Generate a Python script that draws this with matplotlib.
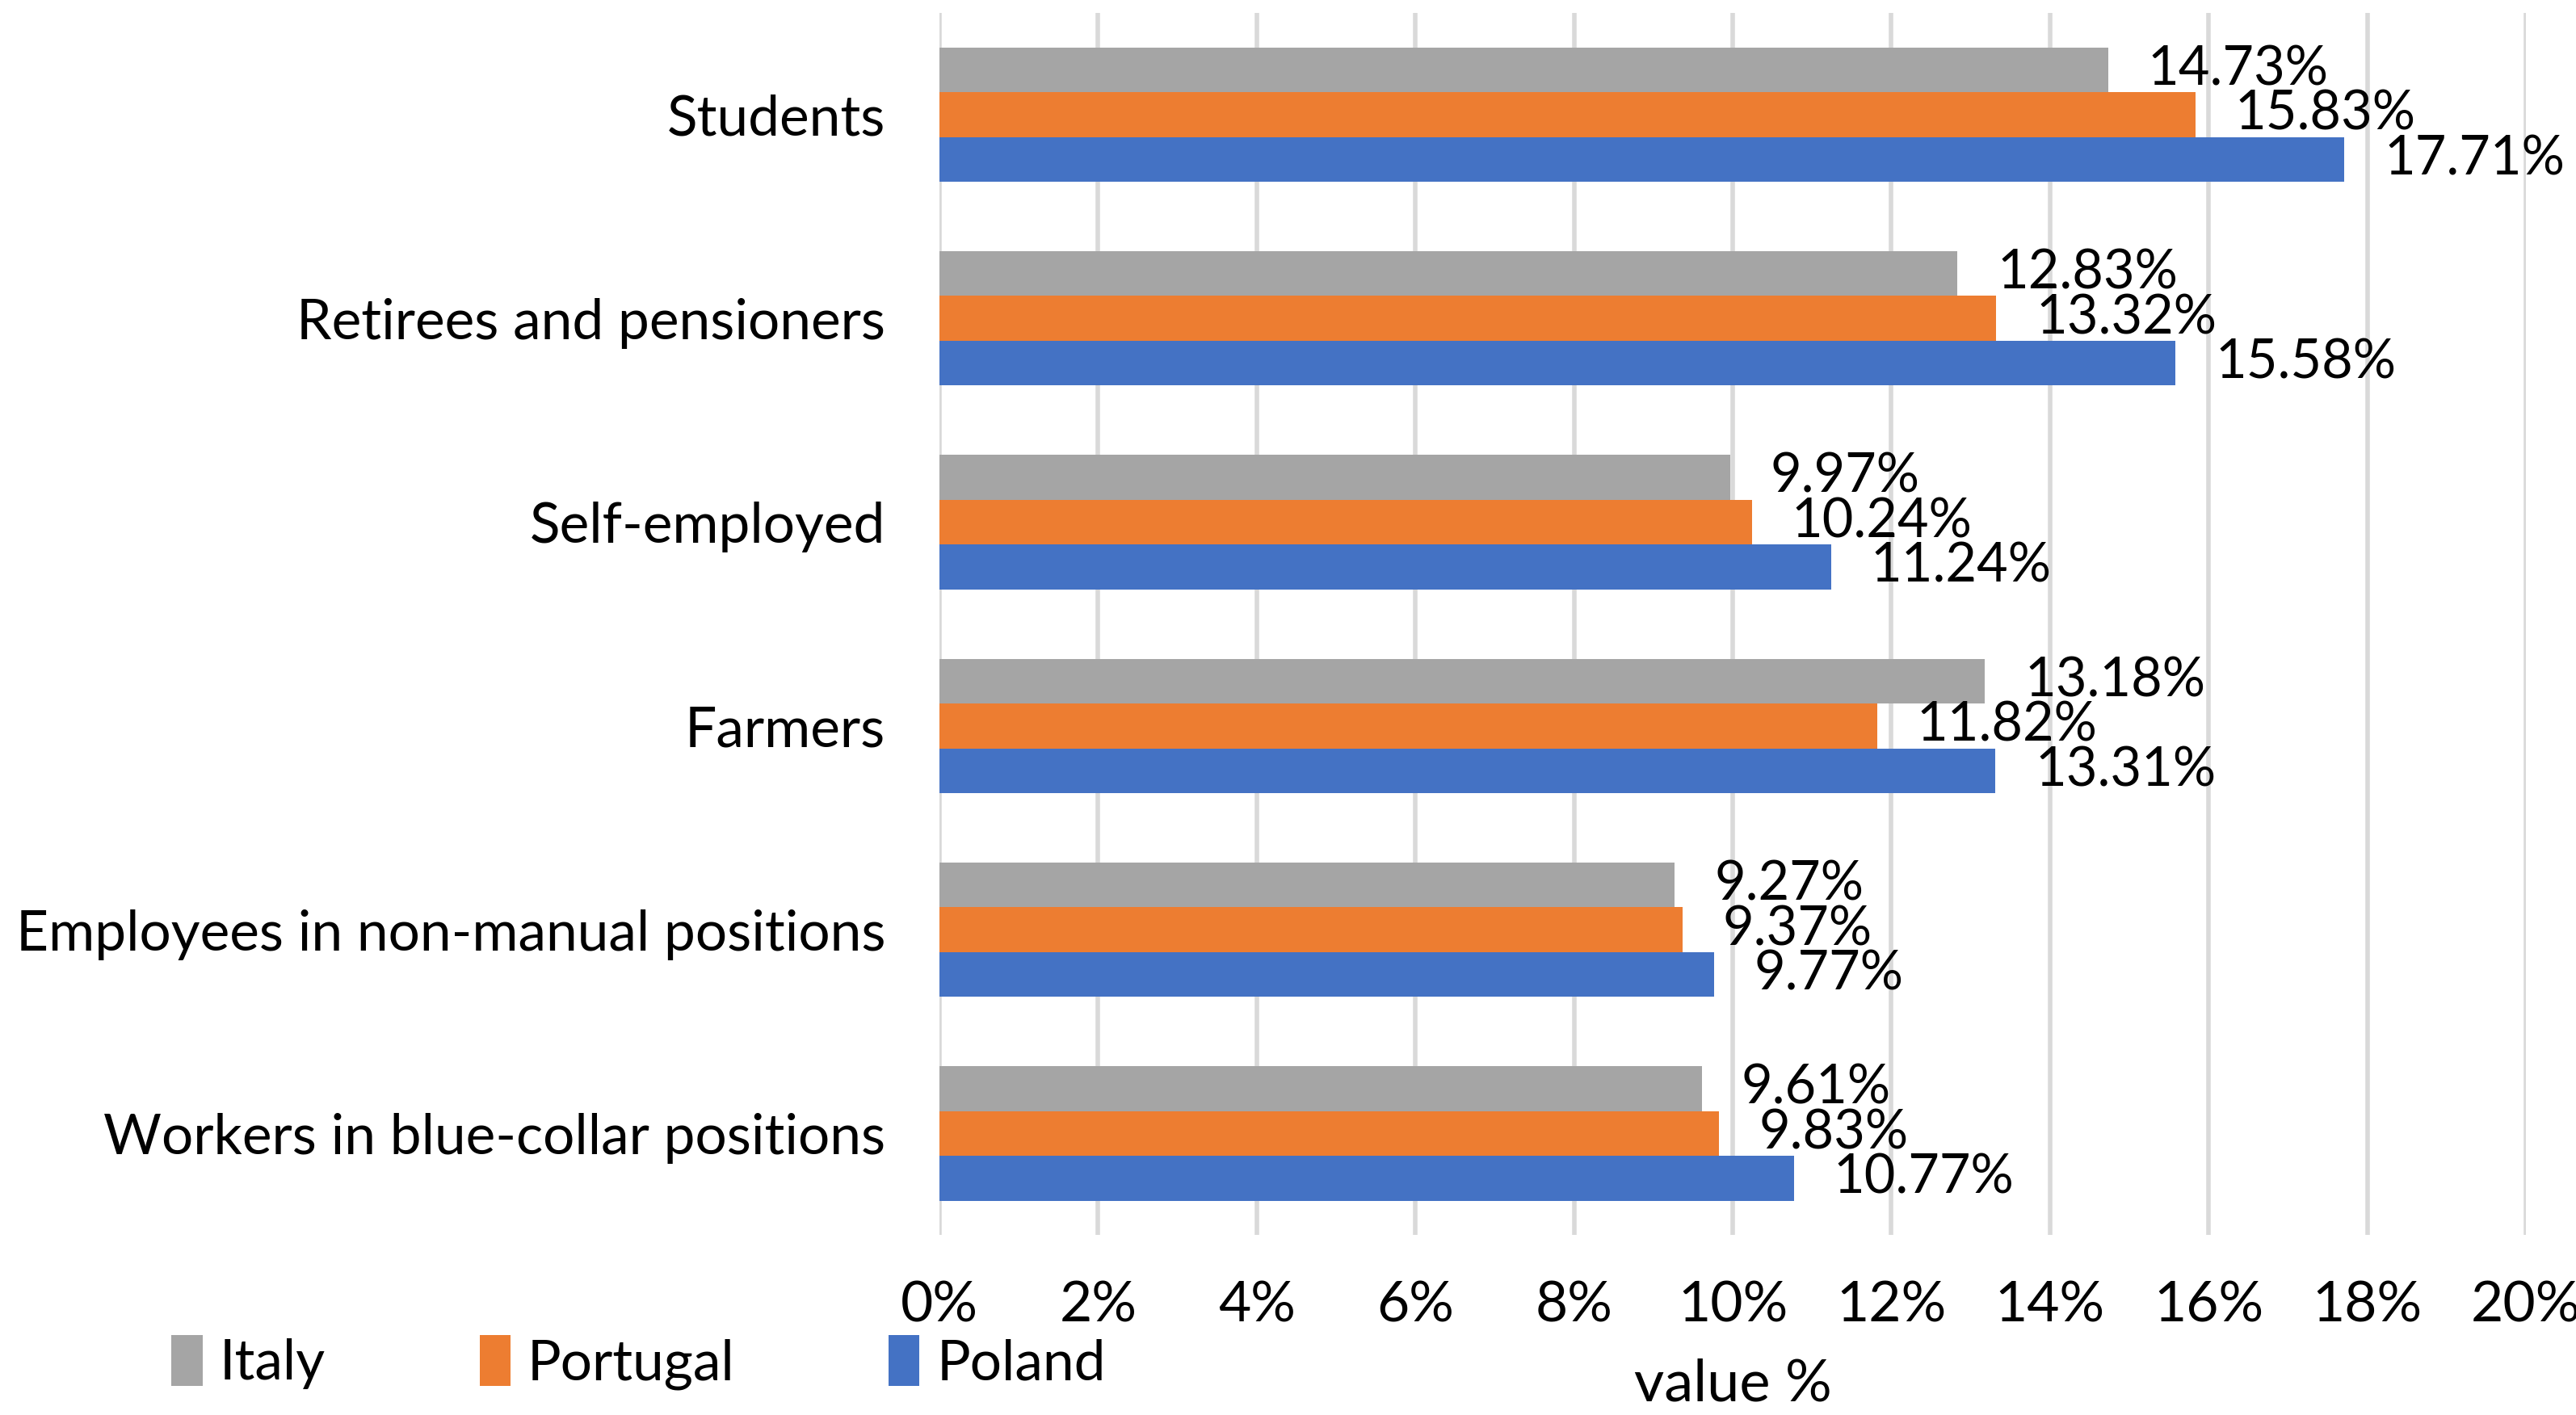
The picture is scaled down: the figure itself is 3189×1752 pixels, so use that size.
import numpy as np
import matplotlib.pyplot as plt
from matplotlib.patches import Patch

# Data (top to bottom as in the chart)
categories = ["Students", "Retirees and pensioners", "Self-employed", "Farmers",
              "Employees in non-manual positions", "Workers in blue-collar positions"]
italy = [14.73, 12.83, 9.97, 13.18, 9.27, 9.61]
portugal = [15.83, 13.32, 10.24, 11.82, 9.37, 9.83]
poland = [17.71, 15.58, 11.24, 13.31, 9.77, 10.77]
series_names = ["Italy", "Portugal", "Poland"]
colors = ["#A5A5A5", "#ED7D31", "#4472C4"]
xticks = [0, 2, 4, 6, 8, 10, 12, 14, 16, 18, 20]

plt.rcParams['font.family'] = ['Lato', 'DejaVu Sans']

fig = plt.figure(figsize=(15.945, 8.76), dpi=200)
ax = fig.add_axes([0.3647, 0.127, 0.6159, 0.864])

n = len(categories)
y = np.arange(n)[::-1]  # Students at top
h = 0.22
offsets = [h, 0, -h]
for vals, off, col in zip([italy, portugal, poland], offsets, colors):
    ax.barh(y + off, vals, height=h, color=col, zorder=3)
    for yy, v in zip(y + off, vals):
        ax.text(v + 0.5, yy, f"{v:.2f}%", va='center', ha='left', fontsize=24, zorder=4)

ax.set_xlim(0, 20)
ax.set_ylim(-0.5, n - 0.5)
ax.set_xticks(xticks)
ax.set_xticklabels([f"{t}%" for t in xticks], fontsize=25)
ax.set_yticks(y)
ax.set_yticklabels(categories, fontsize=25)
ax.tick_params(axis='both', length=0)
ax.tick_params(axis='y', pad=24)
ax.tick_params(axis='x', pad=20)
ax.grid(axis='x', color='#D9D9D9', linewidth=2.0, zorder=0)
for s in ax.spines.values():
    s.set_visible(False)

ax.set_xlabel("value %", fontsize=26, labelpad=12)

handles = [Patch(facecolor=c, label=nm) for c, nm in zip(colors, series_names)]
fig.legend(handles=handles, loc='center left', bbox_to_anchor=(0.047, 0.037), ncol=3,
           frameon=False, fontsize=25, handlelength=0.55, handleheight=1.0,
           handletextpad=0.3, columnspacing=2.75)

fig.savefig("out.png", dpi=200)
